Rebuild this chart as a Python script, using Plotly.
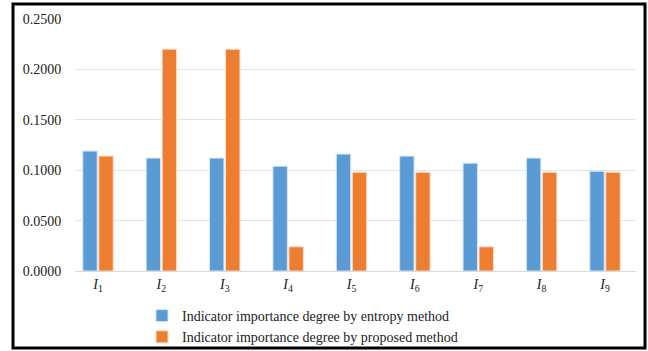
import plotly.graph_objects as go

categories = ["<i>I</i><sub>%d</sub>" % i for i in range(1, 10)]
entropy = [0.119, 0.112, 0.112, 0.104, 0.116, 0.114, 0.107, 0.112, 0.099]
proposed = [0.114, 0.220, 0.220, 0.024, 0.098, 0.098, 0.024, 0.098, 0.098]
names = ["Indicator importance degree by entropy method",
         "Indicator importance degree by proposed method"]
tickvals = [0, 0.05, 0.1, 0.15, 0.2, 0.25]

W, H = 648, 351
L, R, T, B = 75, 12, 19, 80
pw, ph = W - L - R, H - T - B
FONT = "Liberation Serif"

fig = go.Figure()
fig.add_bar(x=categories, y=entropy, name=names[0],
            marker=dict(color="#5B9BD5", line=dict(color="#D6E6F5", width=1)))
fig.add_bar(x=categories, y=proposed, name=names[1],
            marker=dict(color="#ED7D31", line=dict(color="#FADBC8", width=1)))

def px(x):
    return (x - L) / pw

def py(y):
    return (H - B - y) / ph

fig.add_shape(type="rect", xref="paper", yref="paper",
              x0=px(13), x1=px(645), y0=py(348), y1=py(4),
              line=dict(color="black", width=3), fillcolor="rgba(0,0,0,0)")

fig.update_layout(
    width=W, height=H,
    margin=dict(l=L, r=R, t=T, b=B, autoexpand=False),
    paper_bgcolor="white", plot_bgcolor="white",
    barmode="group", bargap=0.495, bargroupgap=0.1,
    font=dict(family=FONT, size=14, color="#222"),
    showlegend=True,
    legend=dict(orientation="v", x=px(142), y=py(300), xanchor="left", yanchor="top",
                font=dict(family=FONT, size=14), tracegroupgap=0, itemwidth=30,
                bgcolor="rgba(0,0,0,0)"),
    xaxis=dict(showline=True, linecolor="#D9D9D9", ticks="", range=[-0.363, 8.489],
               tickfont=dict(family=FONT, size=14)),
    yaxis=dict(range=[0, 0.25], tickvals=tickvals, tickformat=".4f", showgrid=True,
               gridcolor="#E3E3E3", zeroline=False, ticks="outside", ticklen=10,
               tickcolor="rgba(0,0,0,0)", tickfont=dict(family=FONT, size=14)),
)
fig.write_html("out.html", config={"displayModeBar": False},
               post_script="document.body.style.margin='0';document.body.style.overflow='hidden';")
